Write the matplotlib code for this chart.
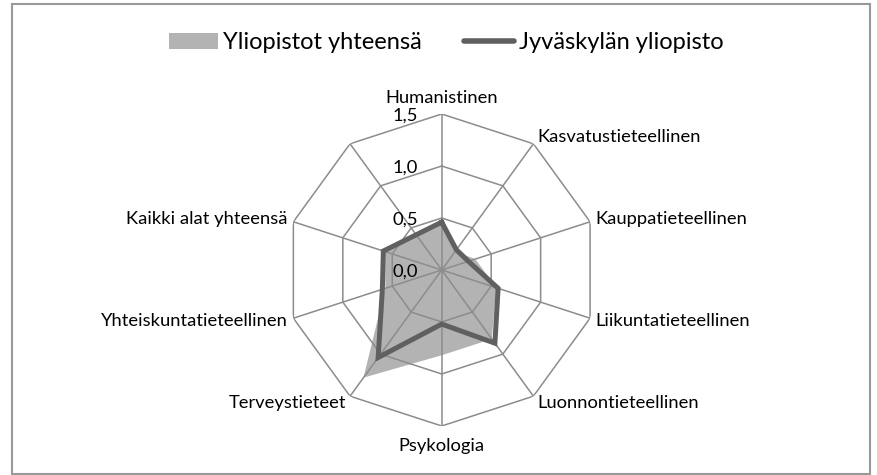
import numpy as np
import matplotlib
matplotlib.use("Agg")
import matplotlib.pyplot as plt
from matplotlib.patches import Patch, Rectangle
from matplotlib.lines import Line2D

plt.rcParams.update({"font.family": ["Lato", "DejaVu Sans"]})

# data; the 10th spoke has no label and no value
categories = ["Humanistinen", "Kasvatustieteellinen", "Kauppatieteellinen",
              "Liikuntatieteellinen", "Luonnontieteellinen", "Psykologia",
              "Terveystieteet", "Yhteiskuntatieteellinen", "Kaikki alat yhteensä", ""]
yliopistot = [0.45, 0.22, 0.34, 0.55, 0.82, 0.82, 1.28, 0.57, 0.57, np.nan]
jyvaskyla = [0.46, 0.24, 0.27, 0.57, 0.87, 0.52, 1.04, 0.60, 0.59, np.nan]
rings = [0.0, 0.5, 1.0, 1.5]
ring_labels = ["0,0", "0,5", "1,0", "1,5"]

GRID, FILL, LINE = "#8c8c8c", "#b3b3b3", "#606060"
FS = 13.2

n = len(categories)
theta = np.arange(n) * 2 * np.pi / n

def closed(vals):
    v = np.asarray(vals, float)
    ok = ~np.isnan(v)
    t, r = theta[ok], v[ok]
    return np.append(t, t[0]), np.append(r, r[0])

fig = plt.figure(figsize=(8.78, 4.75), dpi=100)
fig.patches.append(Rectangle((12.5/878, 1/475), (870-12.5)/878, (471.5-1)/475, transform=fig.transFigure,
                             fill=False, ec="#999999", lw=1.5))
ax = fig.add_axes([0.3254, 0.1032, 0.3554, 0.6568], projection="polar")
ax.set_theta_zero_location("N"); ax.set_theta_direction(-1)
ax.set_ylim(0, 1.5)
ax.grid(False); ax.spines["polar"].set_visible(False)
ax.set_xticks([]); ax.set_yticks([])
ax.patch.set_alpha(0)

# series
t, r = closed(yliopistot)
ax.fill(t, r, color=FILL, lw=0, zorder=1)
# decagon grid + spokes
tt = np.append(theta, theta[0])
for rv in rings[1:]:
    ax.plot(tt, np.full_like(tt, rv), color=GRID, lw=1.1, zorder=2)
for th in theta:
    ax.plot([th, th], [0, 1.5], color=GRID, lw=1.1, zorder=2)
t, r = closed(jyvaskyla)
ax.plot(t, r, color=LINE, lw=3.6, solid_joinstyle="miter", zorder=3)

# ring values
for rv, lab in zip(rings, ring_labels):
    ax.annotate(lab, (0, rv), xytext=(-24, -2), textcoords="offset pixels",
                ha="right", va="center", fontsize=FS, zorder=4)

# category labels
for th, lab in zip(theta, categories):
    s, c = np.sin(th), np.cos(th)
    if abs(s) < 1e-6:
        ha = "center"; va = "bottom" if c > 0 else "top"
        off = (0, 8 if c > 0 else -12)
    else:
        ha = "left" if s > 0 else "right"; va = "center"
        off = (6 * s, 8 * c)
    ax.annotate(lab, (th, 1.5), xytext=off, textcoords="offset pixels",
                ha=ha, va=va, fontsize=FS, annotation_clip=False)

handles = [Patch(fc=FILL, ec="none"), Line2D([], [], color=LINE, lw=4, solid_capstyle="round")]
fig.legend(handles, ["Yliopistot yhteensä", "Jyväskylän yliopisto"], ncol=2, loc="center",
           bbox_to_anchor=(0.508, 0.9095), frameon=False, fontsize=17,
           handlelength=2.1, handleheight=0.65, handletextpad=0.2, columnspacing=1.8)

fig.savefig("out.png", dpi=100)
